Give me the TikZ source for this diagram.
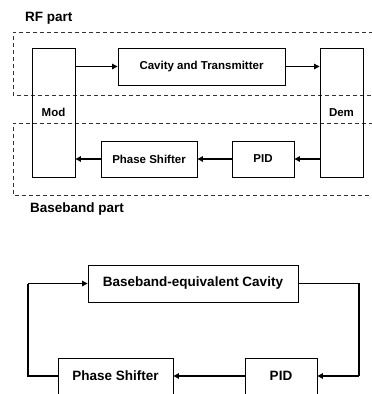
\documentclass[tikz,border=0pt]{standalone}
\usepackage{fontspec}
\setmainfont{Liberation Sans}
\usetikzlibrary{arrows.meta,calc}
\begin{document}
\begin{tikzpicture}[x=1pt,y=-1pt,
  blk/.style={draw=black,line width=0.9pt,inner sep=0pt,font=\fontsize{11.5}{13}\selectfont\bfseries},
  blkb/.style={draw=black,line width=0.9pt,inner sep=0pt},
  txtb/.style={inner sep=0pt,font=\fontsize{13.5}{15}\selectfont\bfseries},
  conn/.style={line width=1.1pt,-{Triangle[length=5.5pt,width=5.5pt]}},
  wire/.style={line width=1.1pt},
  zone/.style={draw=black!80,line width=0.8pt,dash pattern=on 4pt off 3pt},
  lbl/.style={inner sep=0pt,anchor=base west,font=\fontsize{13.5}{15}\selectfont\bfseries}]
\useasboundingbox (0,0) rectangle (372,394);
\begin{scope}
\clip (0,0) rectangle (372,394);
% zones
\draw[zone] (380,32) -- (13,32) -- (13,95) -- (380,95);
\draw[zone] (380,123) -- (13,123) -- (13,195) -- (380,195);
\node[lbl] (rf) at (25,21) {RF part};
\node[lbl] (bb) at (30,212) {Baseband part};
% top diagram
\node[blk,minimum width=43pt,minimum height=129pt] (mod) at (53.5,112.5) {Mod};
\node[blk,minimum width=167pt,minimum height=37pt] (cav) at (201.5,66.5) {Cavity and Transmitter};
\node[blk,minimum width=43pt,minimum height=129pt] (dem) at (341.5,112.5) {Dem};
\node[blk,minimum width=96pt,minimum height=36pt] (ps) at (149,159) {Phase Shifter};
\node[blk,minimum width=62pt,minimum height=36pt] (pid) at (263,159) {PID};
\draw[conn] (mod.east |- cav.west) -- (cav.west);
\draw[conn] (cav.east) -- (dem.west |- cav.east);
\draw[conn] (dem.west |- pid.east) -- (pid.east);
\draw[conn] (pid.west) -- (ps.east);
\draw[conn] (ps.west) -- (mod.east |- ps.west);
% bottom diagram
\node[blkb,txtb,minimum width=210pt,minimum height=37pt] (bec) at (193,283.5) {Baseband-equivalent Cavity};
\node[blkb,minimum width=115pt,minimum height=40pt] (ps2) at (115.5,378) {};
\node[txtb] (ps2t) at (115.5,376) {Phase Shifter};
\node[blkb,minimum width=72pt,minimum height=40pt] (pid2) at (281,378) {};
\node[txtb] (pid2t) at (281,376) {PID};
\coordinate (r) at (359,283.5);
\coordinate (l) at (28,283.5);
\coordinate (r2) at (359,376);
\coordinate (l2) at (28,376);
\draw[wire] (bec.east) -- (r) -- (r2);
\draw[conn] (r2) -- (pid2.east |- r2);
\draw[conn] (pid2.west |- r2) -- (ps2.east |- r2);
\draw[wire] (ps2.west |- r2) -- (l2) -- (l);
\draw[conn] (l) -- (bec.west);
\end{scope}
\end{tikzpicture}
\end{document}
